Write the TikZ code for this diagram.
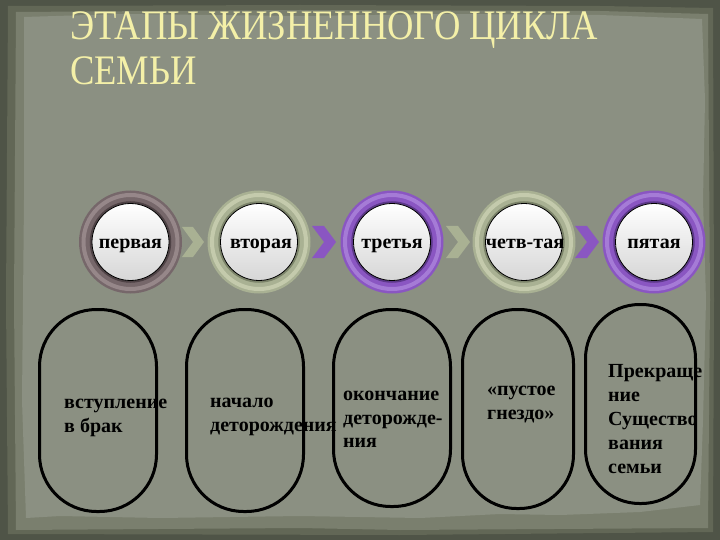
\documentclass[tikz,border=0pt]{standalone}
\usepackage{fontspec}
\setmainfont{Liberation Serif}[BoldFont={Liberation Serif Bold}]
\definecolor{rim}{HTML}{4F5447}
\definecolor{rimmid}{HTML}{626756}
\definecolor{band}{HTML}{7A7F6E}
\definecolor{paper}{HTML}{8B9082}
\definecolor{mauve}{HTML}{76676A}
\definecolor{mauvedark}{HTML}{4E4245}
\definecolor{mauvelight}{HTML}{968789}
\definecolor{sage}{HTML}{A9B193}
\definecolor{sagedark}{HTML}{7C846A}
\definecolor{sagelight}{HTML}{C4CAAC}
\definecolor{purp}{HTML}{8A56C2}
\definecolor{purpdark}{HTML}{5C3889}
\definecolor{purplight}{HTML}{A57BD6}
\definecolor{titlecol}{HTML}{F4F0A8}
\tikzset{
  ring/.style={circle, minimum size=103pt, inner sep=0pt, fill=#1},
  innerc/.style={circle, minimum size=77pt, inner sep=0pt, draw=black, line width=0.8pt,
     top color=white, bottom color=black!16},
  ctext/.style={anchor=base, inner sep=0pt, font=\bfseries\fontsize{20}{24}\selectfont},
  oval/.style={rectangle, minimum width=117pt, minimum height=202pt, rounded corners=57pt,
     draw=black, line width=3pt, inner sep=0pt},
  otext/.style={anchor=base west, inner sep=0pt, font=\bfseries\fontsize{20}{24}\selectfont},
  ttext/.style={anchor=base west, inner sep=0pt, text=titlecol, font=\fontsize{42}{45}\selectfont},
}
\begin{document}
\begin{tikzpicture}[x=1pt,y=-1pt]
\useasboundingbox (0,0) rectangle (720,540);
% background
\fill[rim] (0,0) rectangle (720,540);
\fill[rimmid] (8,6) -- (300,5) -- (600,6) -- (713,8) -- (714,300) -- (713,532) -- (400,535) -- (8,534) -- (6,300) -- cycle;
\fill[band] (16,12) -- (300,10) -- (600,11) -- (708,14) -- (710,300) -- (708,528) -- (400,530) -- (300,528) -- (16,530) -- (14,300) -- cycle;
\fill[paper] (24,17) -- (120,14) -- (300,16) -- (450,14) -- (600,15) -- (702,19) -- (705,100) -- (703,200) -- (706,300) -- (703,420) -- (700,505) -- (640,512) -- (560,515) -- (500,514) -- (420,518) -- (300,516) -- (160,518) -- (60,516) -- (26,518) -- (22,400) -- (24,200) -- cycle;
% title
\node[ttext] (title1) at (70,40) {\scalebox{0.87}[1]{ЭТАПЫ ЖИЗНЕННОГО ЦИКЛА}};
\node[ttext] (title2) at (70,85) {\scalebox{0.87}[1]{СЕМЬИ}};
% chevrons
\fill[sage, shift={(193,242)}] (-11,-15) -- (0,-15) -- (11,0) -- (0,15) -- (-11,15) -- (0,0) -- cycle;
\fill[purp, shift={(324,242)}] (-12,-16) -- (0,-16) -- (12,0) -- (0,16) -- (-12,16) -- (0,0) -- cycle;
\fill[sage, shift={(458,242)}] (-12,-16) -- (0,-16) -- (12,0) -- (0,16) -- (-12,16) -- (0,0) -- cycle;
\fill[purp, shift={(587,242)}] (-12,-16) -- (0,-16) -- (12,0) -- (0,16) -- (-12,16) -- (0,0) -- cycle;
% circles
\node[ring=mauve] (r1) at (130.5,242) {};
\draw[mauvelight, line width=4pt] (r1) circle (47);
\draw[mauvedark, line width=2.5pt] (r1) circle (39.5);
\node[innerc] (c1) at (r1) {};
\node[ctext] (l1) at (130.5,248) {первая};
\node[ring=sage] (r2) at (259,242) {};
\draw[sagelight, line width=4pt] (r2) circle (47);
\draw[sagedark, line width=2.5pt] (r2) circle (39.5);
\node[innerc] (c2) at (r2) {};
\node[ctext] (l2) at (261,248) {вторая};
\node[ring=purp] (r3) at (392,242) {};
\draw[purplight, line width=4pt] (r3) circle (47);
\draw[purpdark, line width=2.5pt] (r3) circle (39.5);
\node[innerc] (c3) at (r3) {};
\node[ctext] (l3) at (392,248) {третья};
\node[ring=sage] (r4) at (524,242) {};
\draw[sagelight, line width=4pt] (r4) circle (47);
\draw[sagedark, line width=2.5pt] (r4) circle (39.5);
\node[innerc] (c4) at (r4) {};
\node[ctext] (l4) at (525,248) {четв-тая};
\node[ring=purp] (r5) at (654,242) {};
\draw[purplight, line width=4pt] (r5) circle (47);
\draw[purpdark, line width=2.5pt] (r5) circle (39.5);
\node[innerc] (c5) at (r5) {};
\node[ctext] (l5) at (654,248) {пятая};
% ovals
\node[oval] (o1) at (98,410.5) {};
\node[oval] (o2) at (245,410.5) {};
\node[oval, minimum height=197pt] (o3) at (392,408) {};
\node[oval, minimum width=111pt, minimum height=199pt, rounded corners=54pt] (o4) at (518,409) {};
\node[oval, minimum width=110pt, minimum height=199pt, rounded corners=54pt] (o5) at (640.5,404) {};
% oval texts
\node[otext] (t11) at (64,408) {вступление};
\node[otext] (t12) at (64,432) {в брак};
\node[otext] (t21) at (210,407) {начало};
\node[otext] (t22) at (210,431) {деторождения};
\node[otext] (t31) at (343,400) {окончание};
\node[otext] (t32) at (343,424) {деторожде-};
\node[otext] (t33) at (343,447) {ния};
\node[otext] (t41) at (487,395) {«пустое};
\node[otext] (t42) at (487,419) {гнездо»};
\node[otext] (t51) at (608,377) {Прекраще};
\node[otext] (t52) at (608,401) {ние};
\node[otext] (t53) at (608,425) {Существо};
\node[otext] (t54) at (608,449) {вания};
\node[otext] (t55) at (608,473) {семьи};
\end{tikzpicture}
\end{document}
